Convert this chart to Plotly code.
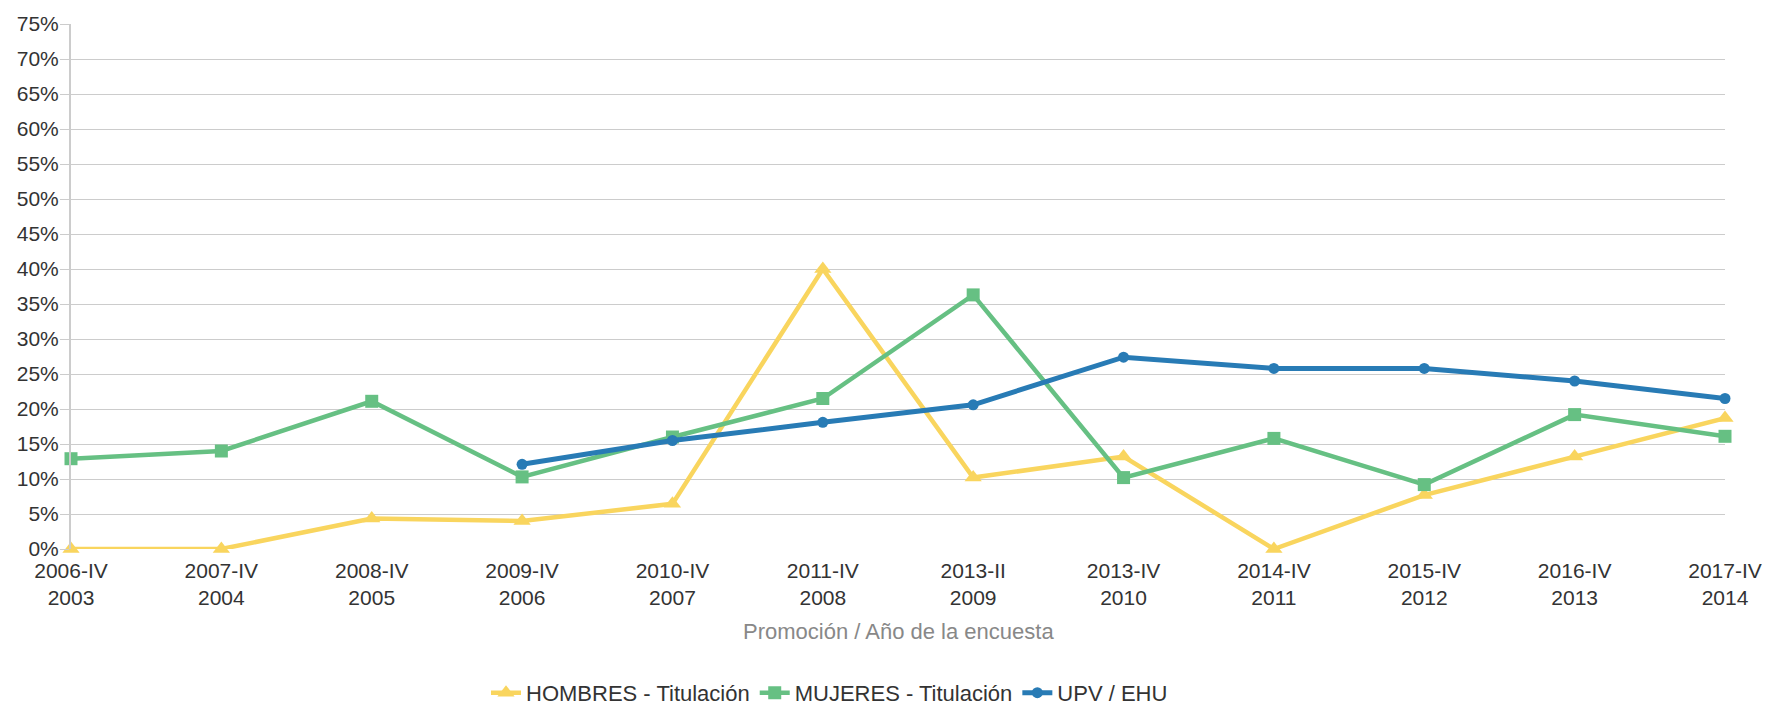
import plotly.graph_objects as go

categories = ["2006-IV<br>2003", "2007-IV<br>2004", "2008-IV<br>2005", "2009-IV<br>2006",
              "2010-IV<br>2007", "2011-IV<br>2008", "2013-II<br>2009", "2013-IV<br>2010",
              "2014-IV<br>2011", "2015-IV<br>2012", "2016-IV<br>2013", "2017-IV<br>2014"]
hombres = [0.0, 0.0, 4.35, 4.0, 6.45, 40.0, 10.2, 13.2, 0.0, 7.7, 13.2, 18.7]
mujeres = [12.9, 14.0, 21.1, 10.3, 16.0, 21.5, 36.3, 10.2, 15.8, 9.2, 19.2, 16.1]
upv = [None, None, None, 12.1, 15.5, 18.1, 20.6, 27.4, 25.8, 25.8, 24.0, 21.5]
y_ticks = list(range(0, 80, 5))
y_ticktext = [f"{v}%" for v in y_ticks]

x = list(range(len(categories)))
font_family = "Liberation Sans, Arial, sans-serif"
YELLOW = "#f9d55e"
GREEN = "#66c083"
BLUE = "#287bb5"

fig = go.Figure()
fig.add_trace(go.Scatter(x=x, y=hombres, name="HOMBRES - Titulación", mode="lines+markers",
                         line=dict(color=YELLOW, width=4.5), cliponaxis=False,
                         marker=dict(symbol="triangle-up", size=15, color=YELLOW)))
fig.add_trace(go.Scatter(x=x, y=mujeres, name="MUJERES - Titulación", mode="lines+markers",
                         line=dict(color=GREEN, width=4.5), cliponaxis=False,
                         marker=dict(symbol="square", size=13, color=GREEN)))
fig.add_trace(go.Scatter(x=x, y=upv, name="UPV / EHU", mode="lines+markers",
                         line=dict(color=BLUE, width=5), cliponaxis=False,
                         marker=dict(symbol="circle", size=11, color=BLUE)))

fig.update_layout(
    width=1771, height=708,
    margin=dict(l=71, r=46, t=24, b=159, autoexpand=False),
    paper_bgcolor="white", plot_bgcolor="white",
    font=dict(family=font_family, size=21, color="#333333"),
    showlegend=True,
    legend=dict(orientation="h", x=0.2509, xanchor="left", y=-0.274, yanchor="middle",
                font=dict(size=22, color="#333333"), traceorder="normal"),
    xaxis=dict(range=[0, len(categories) - 1], tickvals=x, ticktext=categories,
               showgrid=False, showline=False, zeroline=False, ticks="",
               automargin=False, ticklabelstandoff=7,
               tickfont=dict(size=21, color="#333333")),
    yaxis=dict(range=[0, 75], tickvals=y_ticks, ticktext=y_ticktext,
               showgrid=True, gridcolor="#cccccc", gridwidth=1,
               showline=True, linecolor="#cccccc", linewidth=2,
               ticks="outside", ticklen=9, tickcolor="#cccccc",
               zeroline=False, automargin=False, ticklabelstandoff=-3,
               tickfont=dict(size=21, color="#333333")),
    annotations=[dict(text="Promoción / Año de la encuesta", xref="paper", yref="paper",
                      x=0.5, y=-0.158, xanchor="center", yanchor="middle", showarrow=False,
                      font=dict(size=22, color="#888888"))],
)

# remove the browser's default 8px body margin so the figure fills the window exactly
fig.write_html("out.html", config={"displayModeBar": False},
               post_script="document.body.style.margin='0';")
